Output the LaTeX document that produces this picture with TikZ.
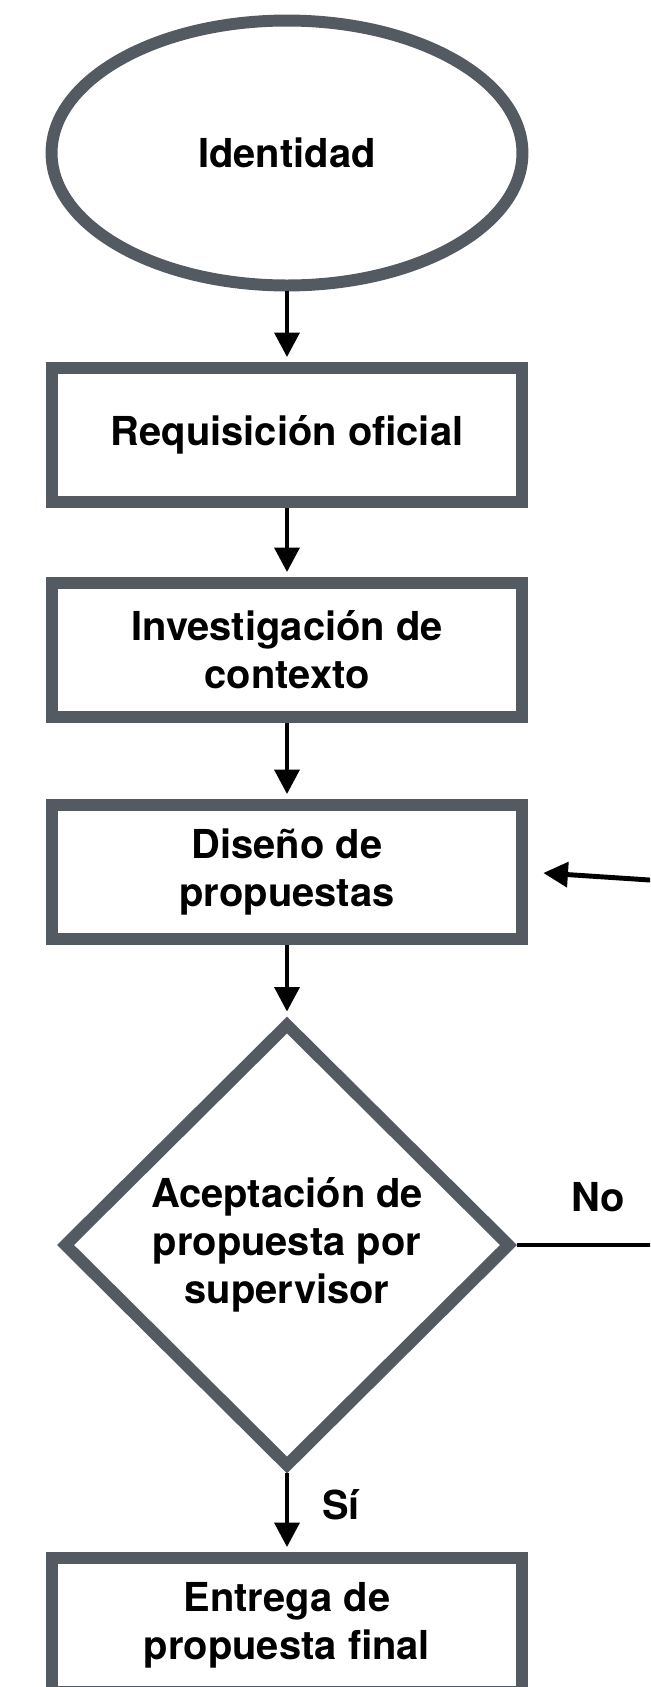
\documentclass[tikz,border=0pt]{standalone}
\usepackage{fontspec}
\setmainfont{TeX Gyre Heros}
\usetikzlibrary{shapes.geometric,arrows.meta}
\definecolor{framegray}{HTML}{545A61}

\begin{document}
\begin{tikzpicture}
  [x=0.02cm,y=-0.02cm,
   every node/.style={font=\bfseries\fontsize{22.7}{27.2}\selectfont,align=center,inner sep=0pt},
   oval/.style={ellipse,draw=framegray,line width=6.8pt,minimum width=9.42cm,minimum height=5.3cm},
   box/.style={rectangle,draw=framegray,line width=6.8pt,minimum width=9.42cm,minimum height=2.68cm},
   decision/.style={diamond,draw=framegray,line width=6.8pt,minimum width=8.96cm,minimum height=8.9cm},
   flow/.style={-{Triangle[length=14pt,width=14pt]},line width=2.8pt,shorten >=2.8pt}]
  \useasboundingbox (0,0) rectangle (650,1687);
  \clip (0,0) rectangle (650,1687);
  \node[oval] (ident) at (287,153) {Identidad};
  \node[box] (req) at (287,435) {Requisición oficial};
  \node[box] (inv) at (287,650) {Investigación de\\contexto};
  \node[box] (dis) at (287,872) {Diseño de\\propuestas};
  \node[decision] (acep) at (287,1245) {Aceptación de\\propuesta por\\supervisor};
  \node[box] (entr) at (287,1625) {Entrega de\\propuesta final};
  \coordinate (noend) at (680,1245);
  \coordinate (back) at (680,882);
  \foreach \from/\to in {ident/req,req/inv,inv/dis,dis/acep,acep/entr}
  \draw[flow] (\from) -- (\to);
  \draw[line width=2.8pt] (acep.east) -- (noend);
  \draw[flow,shorten >=8.5pt] (back) -- (dis.east);
  \node (no) at (598,1197) {No};
  \node (si) at (341,1505) {Sí};
\end{tikzpicture}
\end{document}
